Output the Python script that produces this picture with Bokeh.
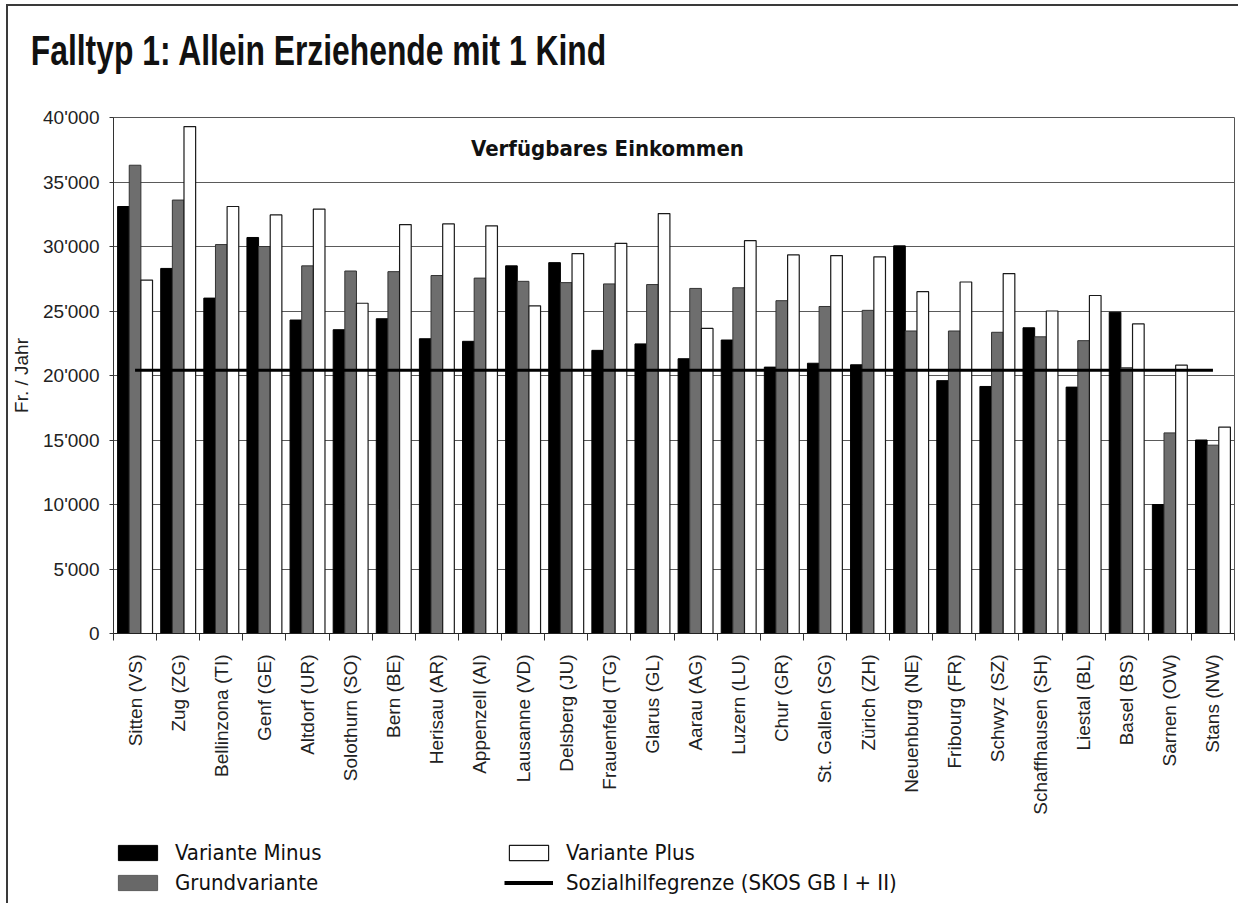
import numpy as np
from bokeh.plotting import figure
from bokeh.layouts import column
from bokeh.models import (Range1d, FixedTicker, Legend, LegendItem, Label, Div,
                          CustomJSTickFormatter, ColumnDataSource)
from bokeh.transform import dodge
from bokeh.embed import file_html
from bokeh.resources import INLINE

# ---------------- data ----------------
cities = ["Sitten (VS)", "Zug (ZG)", "Bellinzona (TI)", "Genf (GE)", "Altdorf (UR)",
          "Solothurn (SO)", "Bern (BE)", "Herisau (AR)", "Appenzell (AI)", "Lausanne (VD)",
          "Delsberg (JU)", "Frauenfeld (TG)", "Glarus (GL)", "Aarau (AG)", "Luzern (LU)",
          "Chur (GR)", "St. Gallen (SG)", "Zürich (ZH)", "Neuenburg (NE)", "Fribourg (FR)",
          "Schwyz (SZ)", "Schaffhausen (SH)", "Liestal (BL)", "Basel (BS)", "Sarnen (OW)",
          "Stans (NW)"]
variante_minus = [33100, 28300, 26000, 30700, 24300, 23550, 24400, 22850, 22650, 28500,
                  28750, 21950, 22450, 21300, 22750, 20650, 20950, 20830, 30050, 19600,
                  19150, 23700, 19100, 24900, 10000, 15000]
grundvariante = [36300, 33600, 30150, 30000, 28500, 28100, 28050, 27750, 27550, 27300,
                 27200, 27100, 27050, 26750, 26800, 25800, 25350, 25050, 23450, 23450,
                 23350, 23000, 22700, 20600, 15550, 14600]
variante_plus = [27400, 39300, 33100, 32450, 32900, 25600, 31700, 31750, 31600, 25400,
                 29450, 30250, 32550, 23650, 30450, 29350, 29300, 29200, 26500, 27250,
                 27900, 25000, 26200, 24000, 20800, 16000]
sozialhilfegrenze = [20400] * len(cities)
y_ticks = [0, 5000, 10000, 15000, 20000, 25000, 30000, 35000, 40000]

NARROW = "DejaVu Sans Condensed, sans-serif"
SANS = "Liberation Sans"
W = 1232

# ---------------- title strip ----------------
title = Div(text="Falltyp 1: Allein Erziehende mit 1 Kind", width=W, height=99, margin=0,
            styles={"font-family": "'Liberation Sans', Arial, sans-serif",
                    "font-weight": "bold", "font-size": "42px", "line-height": "46px",
                    "color": "#111111", "white-space": "nowrap",
                    "padding-left": "30px", "padding-top": "22px",
                    "box-sizing": "border-box",
                    "transform": "scaleX(0.758)", "transform-origin": "0 0"})

# ---------------- main chart ----------------
centers = [i + 0.5 for i in range(len(cities))]
src = ColumnDataSource(dict(x=centers, minus=variante_minus, grund=grundvariante,
                            plus=variante_plus, skos=sozialhilfegrenze))

p = figure(width=W, height=725, output_backend="svg", toolbar_location=None,
           x_range=Range1d(0, len(cities)), y_range=Range1d(0, 40000),
           min_border_left=105, min_border_top=12, min_border_right=6,
           min_border_bottom=197)
p.background_fill_color = "white"
p.border_fill_color = "white"
p.outline_line_color = "#555555"
p.outline_line_width = 1

bw = 0.27
r_minus = p.vbar(x=dodge("x", -0.27, range=p.x_range), top="minus", width=bw, source=src,
                 fill_color="black", line_color="black", line_width=1)
r_grund = p.vbar(x=dodge("x", 0.0, range=p.x_range), top="grund", width=bw, source=src,
                 fill_color="#6e6e6e", line_color="#333333", line_width=1)
r_plus = p.vbar(x=dodge("x", 0.27, range=p.x_range), top="plus", width=bw, source=src,
                fill_color="white", line_color="#1a1a1a", line_width=1.2)
r_line = p.line(x="x", y="skos", source=src, line_color="black", line_width=3)

p.xgrid.visible = False
p.ygrid.grid_line_color = "#5a5a5a"
p.ygrid.grid_line_width = 1

p.yaxis.ticker = FixedTicker(ticks=y_ticks)
p.yaxis.formatter = CustomJSTickFormatter(code="""
    return Math.round(tick).toString().replace(/\\B(?=(\\d{3})+(?!\\d))/g, "'");
""")
p.yaxis.major_label_text_font = SANS
p.yaxis.major_label_text_font_size = "19px"
p.yaxis.major_label_text_color = "#222222"
p.yaxis.major_tick_out = 4
p.yaxis.major_tick_in = 0
p.yaxis.minor_tick_out = 0
p.yaxis.minor_tick_in = 0
p.yaxis.major_label_standoff = 10
p.yaxis.axis_line_color = "#333333"
p.yaxis.major_tick_line_color = "#333333"
p.yaxis.axis_label = "Fr. / Jahr"
p.yaxis.axis_label_text_font = SANS
p.yaxis.axis_label_text_font_style = "normal"
p.yaxis.axis_label_text_font_size = "19px"
p.yaxis.axis_label_text_color = "#222222"
p.yaxis.axis_label_standoff = 8

p.xaxis.ticker = FixedTicker(ticks=centers, minor_ticks=list(range(len(cities) + 1)))
p.xaxis.major_label_overrides = {c: name for c, name in zip(centers, cities)}
p.xaxis.major_label_orientation = np.pi / 2
p.xaxis.major_label_text_font = SANS
p.xaxis.major_label_text_font_size = "19px"
p.xaxis.major_label_text_color = "#222222"
p.xaxis.major_tick_out = 0
p.xaxis.major_tick_in = 0
p.xaxis.minor_tick_out = 7
p.xaxis.minor_tick_in = 0
p.xaxis.minor_tick_line_color = "#333333"
p.xaxis.major_label_standoff = 14
p.xaxis.axis_line_color = "#222222"

p.add_layout(Label(x=494, y=485, x_units="screen", y_units="screen",
                   text="Verfügbares Einkommen",
                   text_font=NARROW, text_font_style="bold", text_font_size="22px",
                   text_color="#111111", text_baseline="middle", text_align="center"))

# ---------------- legend strip ----------------
p2 = figure(width=W, height=75, output_backend="svg", toolbar_location=None,
            x_range=Range1d(0, 1), y_range=Range1d(0, 1),
            min_border_left=105, min_border_right=6, min_border_top=0, min_border_bottom=0)
p2.axis.visible = False
p2.grid.visible = False
p2.outline_line_color = None
p2.background_fill_color = "white"
p2.border_fill_color = "white"

# legend keys (their single point lies outside the visible range)
key_src = ColumnDataSource(dict(x=[-10.0], y=[-10.0]))
k_minus = p2.vbar(x="x", top="y", width=0.1, source=key_src,
                  fill_color="black", line_color="black")
k_grund = p2.vbar(x="x", top="y", width=0.1, source=key_src,
                  fill_color="#686868", line_color="#5a5a5a")
k_plus = p2.vbar(x="x", top="y", width=0.1, source=key_src,
                 fill_color="white", line_color="#1a1a1a", line_width=1.2)
k_line = p2.line(x="x", y="y", source=key_src, line_color="black", line_width=4)


def make_legend(items, loc):
    return Legend(items=items, location=loc, orientation="vertical",
                  glyph_width=49, glyph_height=19, label_standoff=13, spacing=5,
                  padding=0, margin=0, border_line_color=None,
                  background_fill_alpha=0.0, label_height=19,
                  label_text_font=NARROW, label_text_font_size="22px",
                  label_text_color="#111111")


p2.add_layout(make_legend([LegendItem(label="Variante Minus", renderers=[k_minus]),
                           LegendItem(label="Grundvariante", renderers=[k_grund])],
                          (0, 10)))
p2.add_layout(make_legend([LegendItem(label="Variante Plus", renderers=[k_plus]),
                           LegendItem(label="Sozialhilfegrenze (SKOS GB I + II)",
                                      renderers=[k_line])],
                          (391, 10)))

layout = column(title, p, p2, spacing=0,
                styles={"margin-left": "8px", "margin-top": "6px",
                        "box-shadow": "-2px -2px 0 0 #3a3a3a"})

open("out.html", "w").write(file_html(layout, INLINE))
